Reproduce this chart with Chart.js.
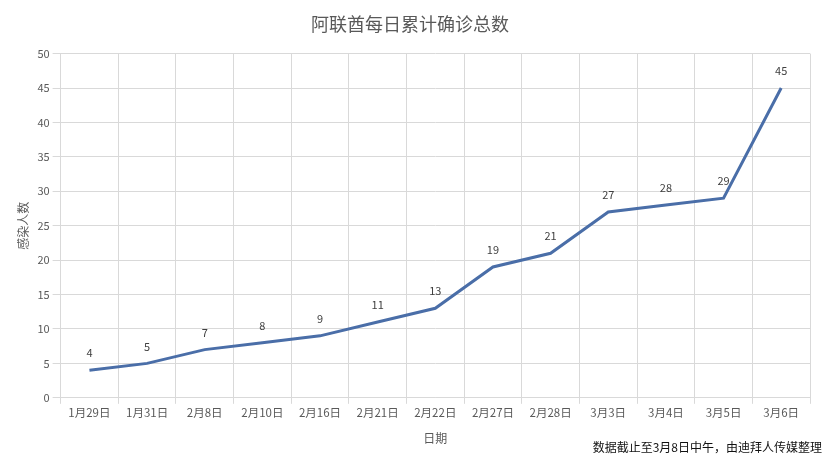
<!DOCTYPE html>
<html>
<head>
<meta charset="utf-8">
<script src="https://cdn.jsdelivr.net/npm/chart.js@4/dist/chart.umd.min.js"></script>
<style>
  html, body { margin: 0; padding: 0; background: #fff; }
  #wrap { width: 828px; height: 460px; position: relative; }
</style>
</head>
<body>
<div id="wrap"><canvas id="chart"></canvas></div>
<script>
// data
const dates = ['1月29日', '1月31日', '2月8日', '2月10日', '2月16日', '2月21日', '2月22日',
               '2月27日', '2月28日', '3月3日', '3月4日', '3月5日', '3月6日'];
const totalCases = [4, 5, 7, 8, 9, 11, 13, 19, 21, 27, 28, 29, 45];
const yTicks = [0, 5, 10, 15, 20, 25, 30, 35, 40, 45, 50];

const chartTitle = '阿联酋每日累计确诊总数';
const yTitle = '感染人数';
const xTitle = '日期';
const sourceNote = '数据截止至3月8日中午，由迪拜人传媒整理';

const FONT = '"Noto Sans CJK SC", "Noto Sans", sans-serif';
const GREY = '#595959';
const GRID = '#d9d9d9';

// value labels above each point (no datalabels plugin offline)
const valueLabels = {
    id: 'valueLabels',
    afterDatasetsDraw(chart) {
        const ctx = chart.ctx;
        const meta = chart.getDatasetMeta(0);
        ctx.save();
        ctx.font = '11px ' + FONT;
        ctx.fillStyle = '#404040';
        ctx.textAlign = 'center';
        ctx.textBaseline = 'middle';
        meta.data.forEach((pt, i) => {
            ctx.fillText(String(totalCases[i]), pt.x, pt.y - 17);
        });
        ctx.restore();
    }
};

// footnote in the bottom right corner
const footNote = {
    id: 'footNote',
    afterDraw(chart) {
        const ctx = chart.ctx;
        ctx.save();
        ctx.font = '12px ' + FONT;
        ctx.fillStyle = '#111';
        ctx.textAlign = 'right';
        ctx.textBaseline = 'middle';
        ctx.fillText(sourceNote, 822, 447);
        ctx.restore();
    }
};

new Chart(document.getElementById('chart'), {
    type: 'line',
    data: {
        labels: dates,
        datasets: [{
            label: yTitle,
            data: totalCases,
            borderColor: '#4a6ea8',
            borderWidth: 3,
            pointRadius: 0,
            tension: 0,
            fill: false
        }]
    },
    options: {
        responsive: true,
        maintainAspectRatio: false,
        animation: false,
        layout: { padding: { left: 10, right: 18, top: 0, bottom: 14 } },
        plugins: {
            legend: { display: false },
            tooltip: { enabled: false },
            title: {
                display: true,
                text: chartTitle,
                color: GREY,
                font: { family: FONT, size: 18, weight: 'normal' },
                padding: { top: 13, bottom: 19 }
            }
        },
        scales: {
            x: {
                offset: true,
                grid: { color: GRID, offset: true, tickLength: 6 },
                border: { color: GRID },
                ticks: { color: GREY, font: { family: FONT, size: 11.5 }, padding: 2, maxRotation: 0 },
                title: {
                    display: true,
                    text: xTitle,
                    color: GREY,
                    font: { family: FONT, size: 12 },
                    padding: { top: 10, bottom: 0 }
                }
            },
            y: {
                min: 0,
                max: 50,
                afterBuildTicks(axis) { axis.ticks = yTicks.map(v => ({ value: v })); },
                grid: { color: GRID, tickLength: 8 },
                border: { color: GRID },
                ticks: { color: GREY, font: { family: FONT, size: 11 }, padding: 3 },
                title: {
                    display: true,
                    text: yTitle,
                    color: GREY,
                    font: { family: FONT, size: 12 },
                    padding: { top: 6, bottom: 4 }
                }
            }
        }
    },
    plugins: [valueLabels, footNote]
});
</script>
</body>
</html>
